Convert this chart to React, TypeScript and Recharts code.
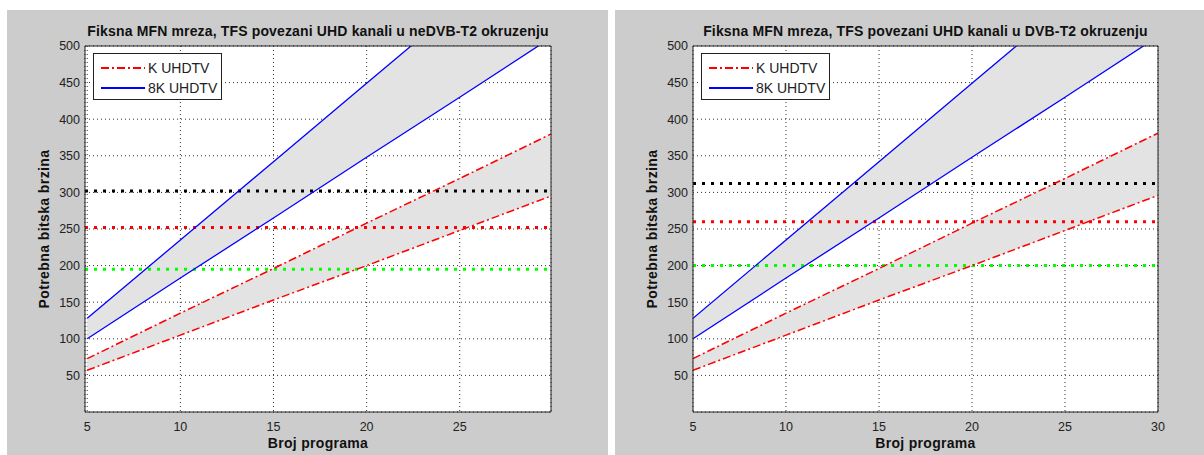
import React from 'react';
import { ComposedChart, Line, Area, XAxis, YAxis, CartesianGrid, ReferenceLine } from 'recharts';

// broj programa (x) i procjena bitske brzine sa slike
const programs = [5, 10, 15, 20, 25, 30];
const uhd8High = [128, 235, 342, 449, 556, 663];
const uhd8Low = [100, 183, 265, 348, 430, 513];
const uhdKHigh = [73, 135, 196, 258, 319, 381];
const uhdKLow = [57, 105, 153, 200, 248, 296];

// kapaciteti (vodoravne tockaste linije)
const capacityNeDvb = [302, 252, 195];
const capacityDvb = [312, 260, 200];
const capacityColors = ['#000000', '#ff0000', '#00ff00'];

const yTicks = [50, 100, 150, 200, 250, 300, 350, 400, 450, 500];
const xTicksLeft = [5, 10, 15, 20, 25];
const xTicksRight = [5, 10, 15, 20, 25, 30];

const titleLeft = 'Fiksna MFN mreza, TFS povezani UHD kanali u neDVB-T2 okruzenju';
const titleRight = 'Fiksna MFN mreza, TFS povezani UHD kanali u DVB-T2 okruzenju';
const legendNames = ['K UHDTV', '8K UHDTV'];

const chartData = programs.map((p, i) => ({
  x: p,
  band8: [uhd8Low[i], uhd8High[i]],
  bandK: [uhdKLow[i], uhdKHigh[i]],
  h8: uhd8High[i],
  l8: uhd8Low[i],
  hK: uhdKHigh[i],
  lK: uhdKLow[i],
}));

const FONT = '"Liberation Sans", Arial, Helvetica, sans-serif';
const AXIS = '#222';
const RED_DASH = '8 3 2 3';

interface PanelProps {
  left: number;
  width: number;
  title: string;
  xDomain: [number, number];
  xTicks: number[];
  capacity: number[];
}

const Panel: React.FC<PanelProps> = ({ left, width, title, xDomain, xTicks, capacity }) => {
  const plotLeft = 78;
  const plotRight = width === 601 ? 544 : 543;
  const centerX = (plotLeft + plotRight) / 2;
  const tickStyle = { fontSize: 12.5, fill: AXIS, fontFamily: FONT };

  return (
    <div style={{ position: 'absolute', left, top: 10, width, height: 445, background: '#cccccc' }}>
      <ComposedChart
        width={width}
        height={445}
        data={chartData}
        margin={{ top: 36, right: width - plotRight, bottom: 0, left: 0 }}
      >
        <CartesianGrid stroke="#333" strokeDasharray="1 3" fill="#ffffff" fillOpacity={1} />
        <XAxis
          dataKey="x"
          type="number"
          domain={xDomain}
          ticks={xTicks}
          allowDataOverflow
          height={43}
          tickLine={false}
          tickSize={0}
          tickMargin={10}
          tick={tickStyle}
          axisLine={{ stroke: AXIS }}
        />
        <XAxis xAxisId="top" dataKey="x" type="number" orientation="top" mirror domain={xDomain} ticks={xTicks}
          allowDataOverflow tick={false} tickSize={4} tickLine={{ stroke: AXIS }} axisLine={{ stroke: AXIS }} />
        <XAxis xAxisId="bin" dataKey="x" type="number" mirror domain={xDomain} ticks={xTicks}
          allowDataOverflow tick={false} tickSize={4} tickLine={{ stroke: AXIS }} axisLine={false} />
        <YAxis
          type="number"
          domain={[0, 500]}
          ticks={yTicks}
          allowDataOverflow
          width={78}
          tickLine={false}
          tickSize={0}
          tickMargin={5}
          tick={tickStyle}
          axisLine={{ stroke: AXIS }}
        />
        <YAxis yAxisId="right" orientation="right" mirror type="number" domain={[0, 500]} ticks={yTicks}
          allowDataOverflow tick={false} tickSize={4} tickLine={{ stroke: AXIS }} axisLine={{ stroke: AXIS }} />
        <YAxis yAxisId="lin" mirror type="number" domain={[0, 500]} ticks={yTicks}
          allowDataOverflow tick={false} tickSize={4} tickLine={{ stroke: AXIS }} axisLine={false} />

        <Area dataKey="band8" type="linear" fill="#e3e3e3" fillOpacity={1} stroke="none" dot={false} activeDot={false} isAnimationActive={false} />
        <Area dataKey="bandK" type="linear" fill="#e3e3e3" fillOpacity={1} stroke="none" dot={false} activeDot={false} isAnimationActive={false} />

        {capacity.map((c, i) => (
          <ReferenceLine key={i} y={c} stroke={capacityColors[i]} strokeWidth={3} strokeDasharray="3 6" />
        ))}

        <Line dataKey="h8" type="linear" stroke="#0000ff" strokeWidth={1.3} dot={false} activeDot={false} isAnimationActive={false} />
        <Line dataKey="l8" type="linear" stroke="#0000ff" strokeWidth={1.3} dot={false} activeDot={false} isAnimationActive={false} />
        <Line dataKey="hK" type="linear" stroke="#ff0000" strokeWidth={1.5} strokeDasharray={RED_DASH} dot={false} activeDot={false} isAnimationActive={false} />
        <Line dataKey="lK" type="linear" stroke="#ff0000" strokeWidth={1.5} strokeDasharray={RED_DASH} dot={false} activeDot={false} isAnimationActive={false} />
      </ComposedChart>

      {/* naslov */}
      <div style={{ position: 'absolute', left: centerX - 300, width: 600, top: 13, textAlign: 'center', fontFamily: FONT, fontWeight: 'bold', fontSize: 14, letterSpacing: 0.15, color: '#111', whiteSpace: 'nowrap' }}>
        {title}
      </div>
      {/* oznake osi */}
      <div style={{ position: 'absolute', left: centerX - 100, width: 200, top: 425, textAlign: 'center', fontFamily: FONT, fontWeight: 'bold', fontSize: 14, letterSpacing: 0.3, color: '#111' }}>
        Broj programa
      </div>
      <div style={{ position: 'absolute', left: 37 - 100, top: 219 - 8, width: 200, textAlign: 'center', transform: 'rotate(-90deg)', fontFamily: FONT, fontWeight: 'bold', fontSize: 14, letterSpacing: 0.4, color: '#111', lineHeight: '16px' }}>
        Potrebna bitska brzina
      </div>
      {/* legenda */}
      <div style={{ position: 'absolute', left: 86, top: 43, width: 129, height: 47, background: '#fff', border: '1px solid #222', boxSizing: 'border-box', fontFamily: FONT, fontSize: 14, color: '#222' }}>
        {legendNames.map((name, i) => (
          <div key={name} style={{ position: 'absolute', left: 6, top: 6 + i * 20, height: 16, display: 'flex', alignItems: 'center' }}>
            <svg width={46} height={16}>
              <line x1={1} x2={45} y1={8} y2={8} stroke={i === 0 ? '#ff0000' : '#0000ff'} strokeWidth={i === 0 ? 1.8 : 2} strokeDasharray={i === 0 ? RED_DASH : undefined} />
            </svg>
            <span style={{ marginLeft: 2 }}>{name}</span>
          </div>
        ))}
      </div>
    </div>
  );
};

export default function App() {
  return (
    <div style={{ position: 'absolute', left: 0, top: 0, width: 1204, height: 455, background: '#ffffff', overflow: 'hidden' }}>
      <Panel left={7} width={601} title={titleLeft} xDomain={[4.88, 29.9]} xTicks={xTicksLeft} capacity={capacityNeDvb} />
      <Panel left={615} width={589} title={titleRight} xDomain={[5, 30]} xTicks={xTicksRight} capacity={capacityDvb} />
    </div>
  );
}
